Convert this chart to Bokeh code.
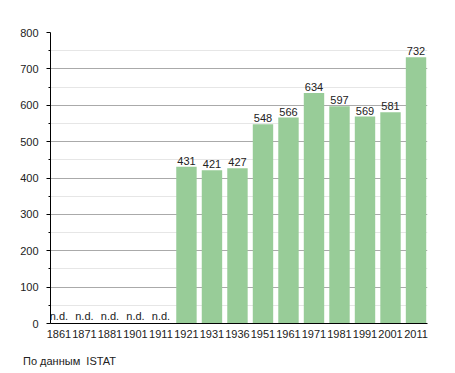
from bokeh.plotting import figure
from bokeh.models import Range1d, FixedTicker, ColumnDataSource, Div
from bokeh.layouts import column
from bokeh.core.properties import value
from bokeh.embed import file_html
from bokeh.resources import INLINE

years = ["1861", "1871", "1881", "1901", "1911", "1921", "1931", "1936",
         "1951", "1961", "1971", "1981", "1991", "2001", "2011"]
population = [None, None, None, None, None, 431, 421, 427,
              548, 566, 634, 597, 569, 581, 732]
missing_label = "n.d."
source_note = "По данным&nbsp; ISTAT"

idx = list(range(len(years)))
have = [i for i, v in enumerate(population) if v is not None]
miss = [i for i, v in enumerate(population) if v is None]

bars = ColumnDataSource(dict(x=[idx[i] for i in have],
                             top=[population[i] for i in have],
                             lab=[str(population[i]) for i in have]))
nd = ColumnDataSource(dict(x=[idx[i] for i in miss],
                           y=[0] * len(miss),
                           lab=[missing_label] * len(miss)))

FONT = "Liberation Sans"

p = figure(width=447, height=347, output_backend="svg", toolbar_location=None,
           x_range=Range1d(-0.33, 14.45), y_range=Range1d(0, 800),
           min_border_left=50, min_border_top=32, min_border_right=20,
           min_border_bottom=24)
p.outline_line_color = None
p.background_fill_color = "white"

p.vbar(x="x", top="top", width=0.8, source=bars, color="#98cc98", line_color=None)
p.text(x="x", y="top", text="lab", source=bars, text_align="center",
       text_baseline="bottom", y_offset=-2, text_font=value(FONT),
       text_font_size="11px", text_color="#222222")
p.text(x="x", y="y", text="lab", source=nd, text_align="center",
       text_baseline="bottom", y_offset=-2, text_font=value(FONT),
       text_font_size="11px", text_color="#222222")

# y axis
p.yaxis.ticker = FixedTicker(ticks=list(range(0, 801, 100)),
                             minor_ticks=list(range(50, 800, 100)))
p.yaxis.axis_line_color = "black"
p.yaxis.major_tick_line_color = "black"
p.yaxis.minor_tick_line_color = "black"
p.yaxis.major_tick_out = 4
p.yaxis.major_tick_in = 0
p.yaxis.minor_tick_out = 2
p.yaxis.minor_tick_in = 0
p.yaxis.major_label_text_font = FONT
p.yaxis.major_label_text_font_size = "11px"
p.yaxis.major_label_text_color = "#222222"
p.yaxis.major_label_standoff = 8

# x axis
p.xaxis.ticker = FixedTicker(ticks=idx)
p.xaxis.major_label_overrides = {i: y for i, y in zip(idx, years)}
p.xaxis.axis_line_color = "black"
p.xaxis.major_tick_line_color = None
p.xaxis.minor_tick_line_color = None
p.xaxis.major_label_text_font = FONT
p.xaxis.major_label_text_font_size = "11px"
p.xaxis.major_label_text_color = "#222222"
p.xaxis.major_label_standoff = 0

p.xgrid.grid_line_color = None
p.ygrid.grid_line_color = "#aaaaaa"
p.ygrid.minor_grid_line_color = "#e6e6e6"

note = Div(text=source_note, width=447, height=22, margin=(0, 0, 0, 0),
           styles={"font-family": FONT, "font-size": "11px", "color": "#222222",
                   "padding-left": "23px", "padding-top": "8px",
                   "line-height": "13px"})

layout = column(p, note, spacing=0)
open("out.html", "w").write(file_html(layout, INLINE))
